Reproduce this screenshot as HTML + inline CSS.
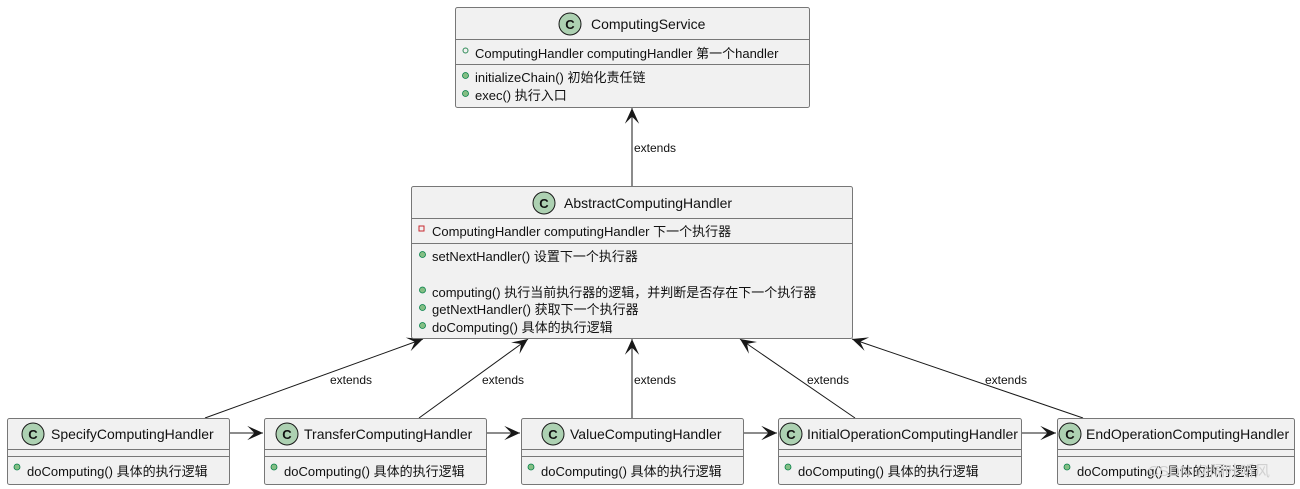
<!DOCTYPE html>
<html><head><meta charset="utf-8"><style>
html,body{margin:0;padding:0;background:#fff;}
svg{display:block;}
text{font-family:"Liberation Sans","Noto Sans CJK SC",sans-serif;fill:#111;}
</style></head><body>
<svg width="1300" height="489" viewBox="0 0 1300 489" xmlns="http://www.w3.org/2000/svg">
<defs>
<marker id="a" markerUnits="userSpaceOnUse" markerWidth="20" markerHeight="20" refX="0" refY="0" viewBox="-12 -6 14 12" orient="auto" overflow="visible">
<path d="M0,0 L-11,-5 L-6,0 L-11,5 Z" fill="#181818"/>
</marker>
</defs>
<g stroke="#181818" stroke-width="1" fill="none">
<line x1="632" y1="186" x2="632" y2="108" marker-end="url(#a)"/>
<line x1="205" y1="418" x2="423" y2="339" marker-end="url(#a)"/>
<line x1="419" y1="418" x2="528" y2="339" marker-end="url(#a)"/>
<line x1="632" y1="418" x2="632" y2="339" marker-end="url(#a)"/>
<line x1="855" y1="418" x2="740" y2="339" marker-end="url(#a)"/>
<line x1="1083" y1="418" x2="852" y2="339" marker-end="url(#a)"/>
<line x1="229" y1="433" x2="263" y2="433" marker-end="url(#a)"/>
<line x1="486" y1="433" x2="520" y2="433" marker-end="url(#a)"/>
<line x1="743" y1="433" x2="777" y2="433" marker-end="url(#a)"/>
<line x1="1021" y1="433" x2="1056" y2="433" marker-end="url(#a)"/>
</g>
<g font-size="12">
<text x="634" y="152">extends</text>
<text x="330" y="384">extends</text>
<text x="482" y="384">extends</text>
<text x="634" y="384">extends</text>
<text x="807" y="384">extends</text>
<text x="985" y="384">extends</text>
</g>
<g fill="#F1F1F1" stroke="#777" stroke-width="1">
<rect x="455.5" y="7.5" width="354" height="100" rx="2"/>
<rect x="411.5" y="186.5" width="441" height="152" rx="2"/>
<rect x="7.5" y="418.5" width="222" height="66" rx="2"/>
<rect x="264.5" y="418.5" width="222" height="66" rx="2"/>
<rect x="521.5" y="418.5" width="222" height="66" rx="2"/>
<rect x="778.5" y="418.5" width="243" height="66" rx="2"/>
<rect x="1057.5" y="418.5" width="237" height="66" rx="2"/>
</g>
<g stroke="#777" stroke-width="1">
<line x1="455" y1="39.5" x2="809" y2="39.5"/><line x1="455" y1="64.5" x2="809" y2="64.5"/>
<line x1="411" y1="218.5" x2="852" y2="218.5"/><line x1="411" y1="243.5" x2="852" y2="243.5"/>
<line x1="7" y1="449.5" x2="229" y2="449.5"/><line x1="7" y1="456.5" x2="229" y2="456.5"/>
<line x1="264" y1="449.5" x2="486" y2="449.5"/><line x1="264" y1="456.5" x2="486" y2="456.5"/>
<line x1="521" y1="449.5" x2="743" y2="449.5"/><line x1="521" y1="456.5" x2="743" y2="456.5"/>
<line x1="778" y1="449.5" x2="1021" y2="449.5"/><line x1="778" y1="456.5" x2="1021" y2="456.5"/>
<line x1="1057" y1="449.5" x2="1294" y2="449.5"/><line x1="1057" y1="456.5" x2="1294" y2="456.5"/>
</g>
<g fill="#ADD1B2" stroke="#181818" stroke-width="1">
<circle cx="570" cy="24" r="11"/><circle cx="544" cy="203" r="11"/>
<circle cx="33" cy="434" r="11"/><circle cx="287" cy="434" r="11"/><circle cx="553" cy="434" r="11"/>
<circle cx="791" cy="434" r="11"/><circle cx="1070" cy="434" r="11"/>
</g>
<g font-size="13" font-weight="bold" text-anchor="middle">
<text x="570" y="29">C</text><text x="544" y="208">C</text>
<text x="33" y="439">C</text><text x="287" y="439">C</text><text x="553" y="439">C</text>
<text x="791" y="439">C</text><text x="1070" y="439">C</text>
</g>
<g font-size="14">
<text x="591" y="29">ComputingService</text>
<text x="564" y="208">AbstractComputingHandler</text>
<text x="51" y="439">SpecifyComputingHandler</text>
<text x="304" y="439">TransferComputingHandler</text>
<text x="570" y="439">ValueComputingHandler</text>
<text x="807" y="439">InitialOperationComputingHandler</text>
<text x="1086" y="439">EndOperationComputingHandler</text>
</g>
<g fill="none" stroke="#2E8B57">
<circle cx="465.5" cy="50.5" r="2.5"/>
</g>
<rect x="419" y="226" width="5" height="5" fill="none" stroke="#C82930"/>
<g fill="#84BE84" stroke="#038048" stroke-width="0.8">
<circle cx="465.5" cy="75.5" r="3"/><circle cx="465.5" cy="93.5" r="3"/>
<circle cx="422.5" cy="254.5" r="3"/><circle cx="422.5" cy="290" r="3"/><circle cx="422.5" cy="307.5" r="3"/><circle cx="422.5" cy="325.5" r="3"/>
<circle cx="17" cy="467" r="3"/><circle cx="274" cy="467" r="3"/><circle cx="531" cy="467" r="3"/><circle cx="788" cy="467" r="3"/><circle cx="1067" cy="467" r="3"/>
</g>
<g font-size="13">
<text x="475" y="58">ComputingHandler computingHandler 第一个handler</text>
<text x="475" y="82">initializeChain() 初始化责任链</text>
<text x="475" y="100">exec() 执行入口</text>
<text x="432" y="236">ComputingHandler computingHandler 下一个执行器</text>
<text x="432" y="261">setNextHandler() 设置下一个执行器</text>
<text x="432" y="297">computing() 执行当前执行器的逻辑，并判断是否存在下一个执行器</text>
<text x="432" y="314">getNextHandler() 获取下一个执行器</text>
<text x="432" y="332">doComputing() 具体的执行逻辑</text>
<text x="27" y="476">doComputing() 具体的执行逻辑</text>
<text x="284" y="476">doComputing() 具体的执行逻辑</text>
<text x="541" y="476">doComputing() 具体的执行逻辑</text>
<text x="798" y="476">doComputing() 具体的执行逻辑</text>
<text x="1077" y="476">doComputing() 具体的执行逻辑</text>
</g>
<text x="1148" y="476" font-size="15" fill="#ccc" style="fill:#d0d0d0">CSDN @隔叶听风</text>
</svg>
</body></html>
